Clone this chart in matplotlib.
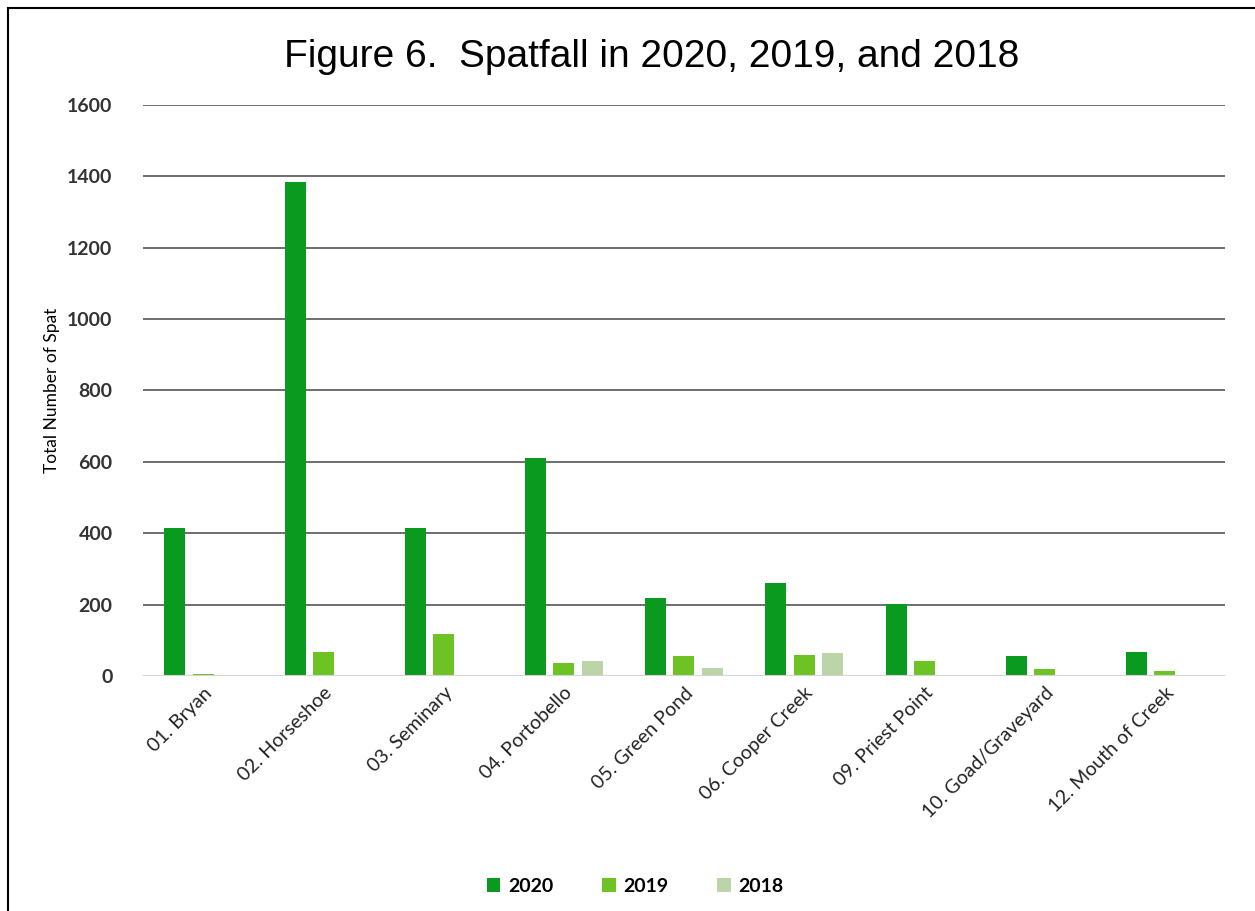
import numpy as np
import matplotlib.pyplot as plt
from matplotlib.patches import Rectangle

sites = ['01. Bryan', '02. Horseshoe', '03. Seminary', '04. Portobello', '05. Green Pond',
         '06. Cooper Creek', '09. Priest Point', '10. Goad/Graveyard', '12. Mouth of Creek']
spat_2020 = [415, 1383, 415, 610, 217, 261, 202, 56, 68]
spat_2019 = [5, 68, 118, 36, 55, 60, 41, 19, 14]
spat_2018 = [0, 0, 0, 41, 23, 64, 0, 0, 0]

colors = ['#0a9a1f', '#6cc323', '#bcd5a8']

fig = plt.figure(figsize=(12.55, 9.11), dpi=100)
ax = fig.add_axes([0.114, 0.258, 0.862, 0.627])

x = np.arange(len(sites))
w = 0.175
off = 0.235
ax.bar(x - off, spat_2020, w, color=colors[0], label='2020', zorder=3)
ax.bar(x, spat_2019, w, color=colors[1], label='2019', zorder=3)
ax.bar(x + off, spat_2018, w, color=colors[2], label='2018', zorder=3)

ax.set_xlim(-0.5, len(sites) - 0.5)
ax.set_ylim(0, 1600)
ax.set_yticks(range(0, 1601, 200))
ax.yaxis.grid(True, color='#6e6e6e', linewidth=1.4, zorder=0)
ax.axhline(0, color='#d4d4d4', linewidth=1.5, zorder=4)
for s in ax.spines.values():
    s.set_visible(False)

ax.tick_params(axis='both', length=0)
ax.tick_params(axis='y', pad=22)
ax.set_yticklabels([str(v) for v in range(0, 1601, 200)], fontsize=14,
                   fontweight='bold', family='Lato', color='#333333')
ax.set_xticks(x)
ax.set_xticklabels(sites, rotation=45, ha='right', rotation_mode='anchor',
                   fontsize=14, family='Lato', color='#222222')
ax.tick_params(axis='x', pad=6)
ax.set_ylabel('Total Number of Spat', fontsize=12.5, family='Lato', labelpad=5)

fig.text(0.519, 0.937, 'Figure 6.  Spatfall in 2020, 2019, and 2018', ha='center',
         va='center', fontsize=28, family='Liberation Sans')

ax.legend(loc='center', bbox_to_anchor=(0.455, -0.368), ncol=3, frameon=False,
          prop={'family': 'Lato', 'size': 14, 'weight': 'bold'},
          handlelength=0.7, handleheight=0.7, columnspacing=2.5, handletextpad=0.4)

fig.patches.append(Rectangle((0.0065, -0.01), 1.0, 1.0012,
                             transform=fig.transFigure, fill=False,
                             edgecolor='black', linewidth=1.5))

fig.savefig('out.png', dpi=100)
